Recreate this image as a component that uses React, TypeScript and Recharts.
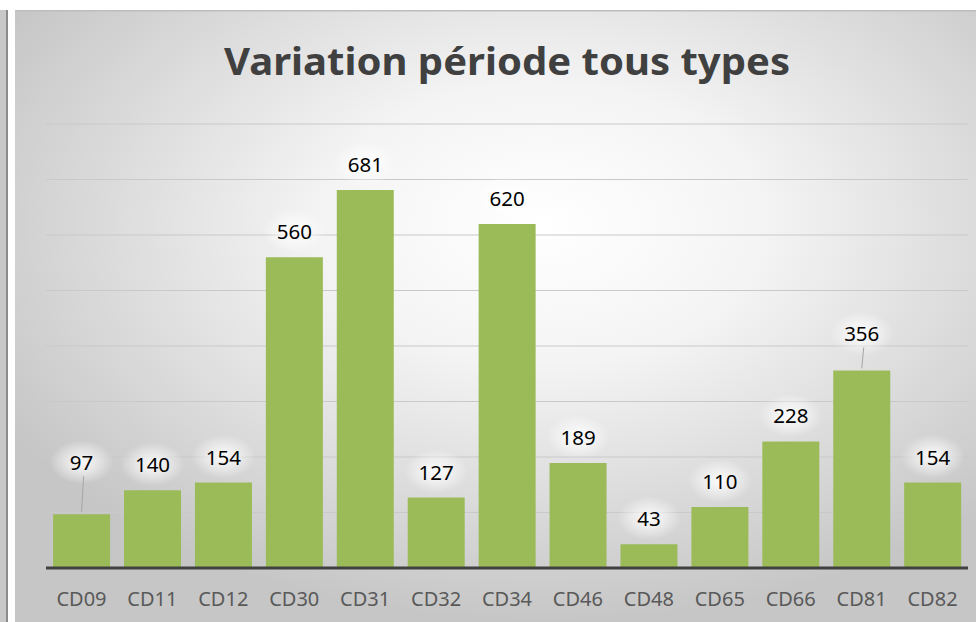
import React from "react";
import { BarChart, Bar, XAxis, YAxis, CartesianGrid, LabelList } from "recharts";

const categories = ["CD09", "CD11", "CD12", "CD30", "CD31", "CD32", "CD34", "CD46", "CD48", "CD65", "CD66", "CD81", "CD82"];
const variations = [97, 140, 154, 560, 681, 127, 620, 189, 43, 110, 228, 356, 154];
const yTicks = [0, 100, 200, 300, 400, 500, 600, 700, 800];

// labels lifted above the gridline with a leader line, as in the Excel original
const leaderLift: Record<string, number> = { CD09: 44, CD81: 29 };

const data = categories.map((name, i) => ({ name, value: variations[i] }));

const FONT = "'Noto Sans', 'Open Sans', sans-serif";

function ValueLabel(props: any) {
  const { x, y, width, value, index } = props;
  const cx = x + width / 2;
  const lift = leaderLift[categories[index]];
  const ty = lift ? y - lift : y - 18;
  return (
    <g>
      <ellipse cx={cx} cy={ty - 8} rx={32} ry={22} fill="url(#glow)" />
      {lift && <line x1={cx} y1={y - 2} x2={cx + 2} y2={ty + 6} stroke="#a6a6a6" strokeWidth={1} />}
      <text x={cx} y={ty} textAnchor="middle" fontFamily={FONT} fontSize={20.5} fill="#000">
        {value}
      </text>
    </g>
  );
}

export default function App() {
  return (
    <div style={{ position: "absolute", left: 0, top: 0, width: 976, height: 622, background: "#fff", overflow: "hidden" }}>
      {/* edge of the neighbouring panel */}
      <div style={{ position: "absolute", left: 0, top: 10, width: 6, height: 612, background: "#c8c8c8", borderRight: "2px solid #8c8c8c" }} />
      <svg width={961} height={612} style={{ position: "absolute", left: 15, top: 10 }}>
        <defs>
          <radialGradient id="bg" cx="55%" cy="35%" r="65%">
            <stop offset="0%" stopColor="#ffffff" />
            <stop offset="35%" stopColor="#f4f4f4" />
            <stop offset="100%" stopColor="#c6c6c6" />
          </radialGradient>
        </defs>
        <rect x={0} y={0} width={961} height={612} fill="url(#bg)" />
        <line x1={0} y1={0.5} x2={961} y2={0.5} stroke="#bdbdbd" strokeWidth={2} />
        <text x={492} y={65} textAnchor="middle" fontFamily={FONT} fontWeight="bold" fontSize={38} fill="#404040" textLength={566} lengthAdjust="spacingAndGlyphs">
          Variation période tous types
        </text>
      </svg>
      <div style={{ position: "absolute", left: 15, top: 10 }}>
        <BarChart width={961} height={612} data={data} margin={{ top: 114, right: 8, bottom: 12, left: 31 }} barCategoryGap="10%">
          <defs>
            <radialGradient id="glow">
              <stop offset="0%" stopColor="#ffffff" stopOpacity={0.9} />
              <stop offset="50%" stopColor="#ffffff" stopOpacity={0.5} />
              <stop offset="100%" stopColor="#ffffff" stopOpacity={0} />
            </radialGradient>
          </defs>
          <CartesianGrid vertical={false} stroke="#c9c9c9" strokeWidth={1} />
          <YAxis hide domain={[0, 800]} ticks={yTicks} />
          <XAxis
            dataKey="name"
            height={42}
            axisLine={{ stroke: "#404040", strokeWidth: 3 }}
            tickLine={false}
            tickMargin={18}
            tick={{ fill: "#595959", fontSize: 20, fontFamily: FONT }}
            interval={0}
          />
          <Bar dataKey="value" fill="#9bbb59" isAnimationActive={false}>
            <LabelList dataKey="value" content={<ValueLabel />} />
          </Bar>
        </BarChart>
      </div>
    </div>
  );
}
